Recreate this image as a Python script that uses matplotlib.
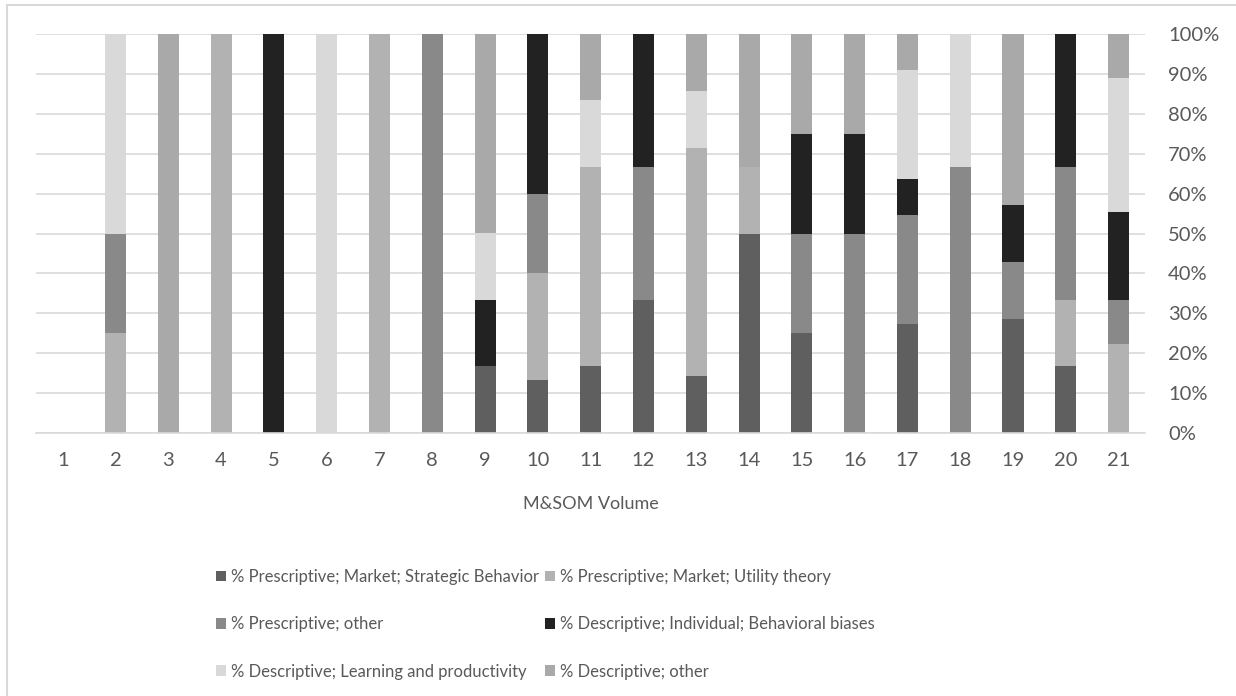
import matplotlib
matplotlib.use("Agg")
import matplotlib.pyplot as plt
from matplotlib.patches import Rectangle
import numpy as np

plt.rcParams['font.family'] = ['Lato', 'DejaVu Sans']

volumes = [str(v) for v in range(1, 22)]

# share of papers per volume (%), one list per category
strategic = [0, 0, 0, 0, 0, 0, 0, 0, 16.7, 13.3, 16.7, 33.3, 14.3, 50, 25, 0, 27.3, 0, 28.6, 16.7, 0]
utility = [0, 25, 0, 100, 0, 0, 100, 0, 0, 26.7, 50, 0, 57.1, 16.7, 0, 0, 0, 0, 0, 16.7, 22.2]
presc_other = [0, 25, 0, 0, 0, 0, 0, 100, 0, 20, 0, 33.3, 0, 0, 25, 50, 27.3, 66.7, 14.3, 33.3, 11.1]
biases = [0, 0, 0, 0, 100, 0, 0, 0, 16.7, 40, 0, 33.4, 0, 0, 25, 25, 9.1, 0, 14.3, 33.3, 22.2]
learning = [0, 50, 0, 0, 0, 100, 0, 0, 16.7, 0, 16.7, 0, 14.3, 0, 0, 0, 27.3, 33.3, 0, 0, 33.4]
desc_other = [0, 0, 100, 0, 0, 0, 0, 0, 49.9, 0, 16.6, 0, 14.3, 33.3, 25, 25, 9.0, 0, 42.8, 0, 11.1]

series = [
    ("% Prescriptive; Market; Strategic Behavior", strategic, "#5f5f5f"),
    ("% Prescriptive; Market; Utility theory", utility, "#b2b2b2"),
    ("% Prescriptive; other", presc_other, "#898989"),
    ("% Descriptive; Individual; Behavioral biases", biases, "#222222"),
    ("% Descriptive; Learning and productivity", learning, "#d9d9d9"),
    ("% Descriptive; other", desc_other, "#a9a9a9"),
]

txt = "#595959"
fig = plt.figure(figsize=(12.36, 6.96), dpi=100)
ax = fig.add_axes([0.0294, 0.3779, 0.8970, 0.5732])

x = np.arange(len(volumes))
bottom = np.zeros(len(volumes))
handles = []
for name, vals, col in series:
    vals = np.array(vals, dtype=float)
    h = ax.bar(x, vals, 0.4, bottom=bottom, color=col, label=name, zorder=2)
    handles.append(h)
    bottom += vals

ax.set_xlim(-0.5, len(volumes) - 0.5)
ax.set_ylim(0, 100)
ax.set_yticks(np.arange(0, 101, 10))
ax.set_yticklabels([f"{v}%" for v in range(0, 101, 10)])
ax.yaxis.tick_right()
ax.set_xticks(x)
ax.set_xticklabels(volumes)
ax.tick_params(axis='both', length=0, labelsize=14.5, labelcolor=txt)
ax.tick_params(axis='y', pad=16.5)
ax.tick_params(axis='x', pad=14)
for lab in ax.get_yticklabels():
    lab.set_horizontalalignment('left')
ax.grid(axis='y', color='#d9d9d9', linewidth=1.2, zorder=0)
for s in ['top', 'left', 'right']:
    ax.spines[s].set_visible(False)
ax.spines['bottom'].set_color('#d9d9d9')
ax.spines['bottom'].set_linewidth(1.2)
ax.set_xlabel("M&SOM Volume", fontsize=13, color=txt, labelpad=19)

order = [0, 2, 4, 1, 3, 5]
leg = fig.legend([handles[i] for i in order], [series[i][0] for i in order],
                 ncol=2, loc='upper left', bbox_to_anchor=(0.1748, 0.1825),
                 frameon=False, fontsize=12, labelcolor=txt,
                 handlelength=0.6, handleheight=0.6, handletextpad=0.3,
                 columnspacing=0.35, labelspacing=1.88, borderpad=0, borderaxespad=0)

# outer chart frame
fig.patches.append(Rectangle((7 / 1236, -0.05), 1.2, 1 - 5 / 696 + 0.05,
                             transform=fig.transFigure, fill=False,
                             edgecolor='#d9d9d9', linewidth=1.5))

fig.savefig("out.png", dpi=100)
